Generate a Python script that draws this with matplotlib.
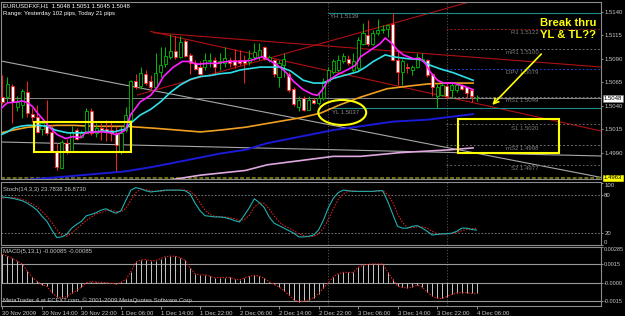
import matplotlib
matplotlib.use("Agg")
import matplotlib.pyplot as plt
import matplotlib.transforms as mtransforms
from matplotlib.patches import Ellipse, Rectangle

plt.rcParams['font.family'] = ['Liberation Sans', 'DejaVu Sans']

# EURUSD H1 bars, index 0 = 30 Nov 2009 06:00, one bar per hour
opens = [1.5049, 1.5049, 1.5061, 1.5039, 1.5041, 1.5054, 1.5031, 1.5028, 1.5015, 1.5018,
         1.5012, 1.4991, 1.4974, 1.5000, 1.4992, 1.5014, 1.5007, 1.5011, 1.5034, 1.5011,
         1.5016, 1.5015, 1.5014, 1.5011, 1.4991, 1.5014, 1.5025, 1.5066, 1.5061, 1.5074,
         1.5066, 1.5060, 1.5076, 1.5084, 1.5092, 1.5098, 1.5092, 1.5109, 1.5094, 1.5085,
         1.5081, 1.5081, 1.5087, 1.5089, 1.5085, 1.5085, 1.5089, 1.5089, 1.5089, 1.5089,
         1.5086, 1.5092, 1.5092, 1.5102, 1.5089, 1.5089, 1.5071, 1.5083, 1.5074, 1.5058,
         1.5039, 1.5048, 1.5035, 1.5046, 1.5043, 1.5048, 1.5066, 1.5076, 1.5078, 1.5087,
         1.5090, 1.5078, 1.5080, 1.5106, 1.5115, 1.5106, 1.5117, 1.5120, 1.5122, 1.5127,
         1.5089, 1.5076, 1.5081, 1.5078, 1.5081, 1.5089, 1.5089, 1.5074, 1.5050, 1.5051,
         1.5061, 1.5057, 1.5057, 1.5062, 1.5060, 1.5057, 1.5048]
highs = [1.5073, 1.5071, 1.5063, 1.5050, 1.5058, 1.5066, 1.5037, 1.5041, 1.5025, 1.5046,
         1.5019, 1.5000, 1.5003, 1.5005, 1.5018, 1.5016, 1.5014, 1.5038, 1.5037, 1.5021,
         1.5021, 1.5025, 1.5023, 1.5018, 1.5018, 1.5039, 1.5067, 1.5074, 1.5081, 1.5078,
         1.5073, 1.5096, 1.5102, 1.5102, 1.5116, 1.5114, 1.5114, 1.5111, 1.5096, 1.5089,
         1.5087, 1.5096, 1.5096, 1.5092, 1.5096, 1.5102, 1.5092, 1.5100, 1.5099, 1.5094,
         1.5099, 1.5107, 1.5107, 1.5103, 1.5094, 1.5090, 1.5089, 1.5096, 1.5076, 1.5060,
         1.5050, 1.5050, 1.5050, 1.5048, 1.5053, 1.5069, 1.5081, 1.5090, 1.5094, 1.5096,
         1.5094, 1.5096, 1.5113, 1.5128, 1.5131, 1.5121, 1.5132, 1.5126, 1.5127, 1.5139,
         1.5099, 1.5090, 1.5085, 1.5083, 1.5096, 1.5096, 1.5090, 1.5075, 1.5064, 1.5066,
         1.5064, 1.5065, 1.5063, 1.5063, 1.5060, 1.5058, 1.5051]
lows = [1.5042, 1.5044, 1.5022, 1.5034, 1.5027, 1.5028, 1.5023, 1.5011, 1.5009, 1.5009,
        1.4991, 1.4972, 1.4974, 1.4989, 1.4991, 1.5003, 1.5006, 1.5011, 1.5009, 1.5007,
        1.5003, 1.5002, 1.5002, 1.4970, 1.4989, 1.5012, 1.5023, 1.5058, 1.5058, 1.5062,
        1.5058, 1.5058, 1.5071, 1.5081, 1.5090, 1.5090, 1.5091, 1.5092, 1.5074, 1.5078,
        1.5073, 1.5078, 1.5081, 1.5073, 1.5078, 1.5081, 1.5081, 1.5080, 1.5083, 1.5064,
        1.5083, 1.5089, 1.5089, 1.5089, 1.5086, 1.5071, 1.5060, 1.5071, 1.5055, 1.5040,
        1.5034, 1.5034, 1.5035, 1.5042, 1.5041, 1.5046, 1.5064, 1.5074, 1.5076, 1.5085,
        1.5083, 1.5076, 1.5078, 1.5105, 1.5103, 1.5105, 1.5115, 1.5117, 1.5113, 1.5087,
        1.5062, 1.5062, 1.5075, 1.5073, 1.5080, 1.5087, 1.5071, 1.5050, 1.5037, 1.5050,
        1.5047, 1.5048, 1.5055, 1.5057, 1.5048, 1.5044, 1.5045]
closes = [1.5044, 1.5063, 1.5044, 1.5044, 1.5056, 1.5032, 1.5028, 1.5012, 1.5021, 1.5011,
          1.4992, 1.4975, 1.5001, 1.4992, 1.5012, 1.5005, 1.5011, 1.5034, 1.5011, 1.5016,
          1.5014, 1.5013, 1.5011, 1.4998, 1.5011, 1.5030, 1.5066, 1.5060, 1.5075, 1.5064,
          1.5060, 1.5075, 1.5083, 1.5093, 1.5098, 1.5092, 1.5108, 1.5093, 1.5085, 1.5079,
          1.5074, 1.5089, 1.5089, 1.5081, 1.5088, 1.5091, 1.5085, 1.5083, 1.5085, 1.5085,
          1.5091, 1.5097, 1.5099, 1.5090, 1.5092, 1.5074, 1.5085, 1.5090, 1.5057, 1.5042,
          1.5046, 1.5035, 1.5046, 1.5043, 1.5048, 1.5066, 1.5078, 1.5087, 1.5089, 1.5093,
          1.5085, 1.5088, 1.5110, 1.5117, 1.5106, 1.5117, 1.5121, 1.5122, 1.5126, 1.5089,
          1.5076, 1.5087, 1.5080, 1.5081, 1.5092, 1.5090, 1.5073, 1.5060, 1.5060, 1.5062,
          1.5050, 1.5062, 1.5062, 1.5058, 1.5053, 1.5050, 1.5048]

# moving averages (bar position, price)
ma_magenta_x = [-0.3, 1.0, 3.0, 4.0, 5.1, 6.1, 7.1, 8.3, 9.7, 11.1, 12.8, 14.2, 15.8, 16.8, 18.4,
                20.4, 21.9, 22.9, 23.9, 24.9, 25.9, 27.9, 30.0, 31.4, 32.6, 34.6, 36.4, 37.7,
                39.5, 41.5, 43.5, 45.5, 47.6, 50.2, 52.6, 53.8, 55.7, 57.3, 58.9, 60.9, 62.8,
                63.8, 64.8, 65.8, 67.8, 69.8, 71.5, 72.5, 74.5, 76.5, 77.5, 78.9, 80.0, 81.2,
                83.2, 84.6, 85.6, 86.6, 88.1, 89.3, 91.3, 93.3, 95.3]
ma_magenta_y = [1.5037, 1.5043, 1.5044, 1.5045, 1.5043, 1.5039, 1.5032, 1.5025, 1.5016, 1.5009,
                1.5005, 1.5007, 1.5006, 1.5011, 1.5012, 1.5012, 1.5011, 1.5009, 1.5011, 1.5014,
                1.5030, 1.5044, 1.5051, 1.5060, 1.5071, 1.5081, 1.5087, 1.5087, 1.5084, 1.5085,
                1.5085, 1.5087, 1.5087, 1.5088, 1.5092, 1.5089, 1.5083, 1.5076, 1.5066, 1.5057,
                1.5052, 1.5051, 1.5057, 1.5066, 1.5073, 1.5078, 1.5083, 1.5092, 1.5099, 1.5106,
                1.5112, 1.5106, 1.5099, 1.5094, 1.5090, 1.5090, 1.5085, 1.5076, 1.5067, 1.5064,
                1.5064, 1.5061, 1.5057]
ma_cyan_x = [-0.3, 1.0, 2.2, 3.6, 5.1, 7.1, 9.1, 10.7, 13.2, 15.8, 18.4, 20.4, 22.5, 24.9, 25.9,
             27.9, 30.0, 32.0, 34.0, 36.0, 38.1, 40.1, 42.1, 44.1, 46.2, 48.2, 52.2, 56.3, 58.3,
             60.9, 63.0, 65.0, 67.0, 69.8, 71.9, 73.5, 75.1, 77.5, 79.1, 82.0, 84.6, 86.6, 88.7,
             91.3, 93.3, 95.3]
ma_cyan_y = [1.5009, 1.5012, 1.5016, 1.5018, 1.5019, 1.5019, 1.5018, 1.5014, 1.5011, 1.5011,
             1.5012, 1.5013, 1.5012, 1.5015, 1.5021, 1.5030, 1.5036, 1.5044, 1.5054, 1.5062,
             1.5068, 1.5071, 1.5072, 1.5074, 1.5075, 1.5078, 1.5081, 1.5081, 1.5077, 1.5067,
             1.5064, 1.5064, 1.5069, 1.5073, 1.5076, 1.5081, 1.5087, 1.5094, 1.5092, 1.5090,
             1.5089, 1.5083, 1.5079, 1.5075, 1.5071, 1.5067]
ma_orange_x = [-0.3, 2.2, 5.1, 7.7, 11.1, 14.4, 18.4, 21.9, 24.9, 30.6, 35.4, 40.1, 44.1, 49.2,
               53.6, 60.3, 64.4, 68.4, 72.5, 77.9, 82.6, 86.0, 90.1, 95.3]
ma_orange_y = [1.5011, 1.5014, 1.5017, 1.5018, 1.5019, 1.5019, 1.5018, 1.5018, 1.5018, 1.5016,
               1.5014, 1.5012, 1.5014, 1.5017, 1.5021, 1.5027, 1.5032, 1.5041, 1.5049, 1.5058,
               1.5061, 1.5063, 1.5064, 1.5064]
ma_blue_x = [-0.3, 11.7, 24.9, 30.6, 37.4, 44.1, 49.2, 53.6, 67.0, 72.5, 79.1, 86.0, 95.3]
ma_blue_y = [1.4959, 1.4964, 1.4970, 1.4975, 1.4982, 1.4989, 1.4993, 1.5000, 1.5014, 1.5018,
             1.5023, 1.5025, 1.5031]
ma_pink_x = [31.0, 34.0, 40.1, 49.2, 53.6, 67.0, 72.5, 80.6, 90.7, 95.3]
ma_pink_y = [1.4959, 1.4961, 1.4966, 1.4971, 1.4977, 1.4986, 1.4986, 1.4990, 1.4993, 1.4995]

# stochastic (14,3,3): main and signal, one value per bar
stoch_main = [77, 76, 75, 73, 71, 67, 62, 56, 46, 38, 24, 12, 13, 17, 27, 33, 38, 47, 49, 52,
              56, 58, 54, 51, 55, 72, 88, 92, 90, 87, 85, 86, 87, 88, 88, 88, 88, 87, 82, 67,
              55, 47, 46, 45, 45, 44, 42, 39, 37, 48, 60, 74, 68, 60, 45, 35, 31, 27, 23, 19,
              13, 13, 14, 16, 24, 40, 60, 75, 84, 88, 87, 86, 86, 86, 86, 86, 87, 87, 70, 50,
              30, 27, 27, 30, 31, 27, 22, 16, 17, 18, 18, 19, 22, 27, 27, 25, 23.8]
stoch_signal = [75, 76, 76, 75, 73, 70, 66, 61, 54, 46, 36, 25, 16, 14, 19, 26, 33, 39, 45, 50,
                52, 55, 56, 54, 53, 59, 72, 84, 90, 89, 87, 86, 86, 87, 88, 88, 88, 88, 86, 79,
                68, 56, 49, 46, 45, 45, 44, 42, 39, 41, 48, 61, 67, 67, 58, 47, 37, 31, 27, 23,
                18, 15, 13, 14, 18, 27, 41, 58, 73, 82, 86, 87, 86, 86, 86, 86, 86, 87, 81, 69,
                50, 36, 28, 28, 29, 29, 27, 22, 18, 17, 18, 18, 20, 23, 25, 26, 26.9]

# MACD (5,13,1), one value per bar (signal period 1 = same line)
macd = [0.00227, 0.00211, 0.00195, 0.00174, 0.00150, 0.00094, 0.00045, 0.00011, -0.00016, -0.00029,
        -0.00080, -0.00112, -0.00123, -0.00112, -0.00083, -0.00064, -0.00035, 0.00000, 0.00008, 0.00005,
        0.00003, 0.00000, -0.00005, -0.00011, 0.00003, 0.00027, 0.00088, 0.00166, 0.00182, 0.00185,
        0.00176, 0.00176, 0.00193, 0.00209, 0.00214, 0.00211, 0.00201, 0.00179, 0.00118, 0.00072,
        0.00062, 0.00064, 0.00051, 0.00040, 0.00040, 0.00040, 0.00043, 0.00029, 0.00021, 0.00040,
        0.00051, 0.00059, 0.00053, 0.00035, 0.00008, -0.00013, -0.00035, -0.00064, -0.00099, -0.00136,
        -0.00152, -0.00147, -0.00139, -0.00120, -0.00088, -0.00043, 0.00000, 0.00048, 0.00072, 0.00083,
        0.00083, 0.00083, 0.00123, 0.00139, 0.00147, 0.00150, 0.00150, 0.00150, 0.00088, 0.00027,
        -0.00027, -0.00037, -0.00045, -0.00032, -0.00021, -0.00035, -0.00075, -0.00107, -0.00126, -0.00126,
        -0.00112, -0.00094, -0.00083, -0.00080, -0.00080, -0.00086, -0.00085]

# trend lines drawn on the chart: (bar, price) -> (bar, price), colour
trend_lines = [((-0.3, 1.50875), (121.2, 1.49636), '#a8a8a8'),
               ((-0.3, 1.50013), (121.2, 1.49864), '#a8a8a8'),
               ((27.3, 1.50513), (95.0, 1.51510), '#b01010'),
               ((30.6, 1.51176), (121.2, 1.50811), '#b01010'),
               ((30.0, 1.51190), (121.2, 1.50130), '#b01010')]

# daily pivot levels
pivot_names = ['R1', 'mR1', 'DPV', 'mS1', 'S1', 'mS2', 'S2']
pivot_levels = [1.5122, 1.5100, 1.5079, 1.5049, 1.5020, 1.4998, 1.4977]
pivot_colors = ['#a01818', '#707070', '#2040d0', '#707070', '#606060', '#707070', '#606060']
yest_high, yest_low = 1.5139, 1.5037
bid, low_line = 1.5048, 1.4963

price_ticks = [1.5140, 1.5115, 1.5090, 1.5065, 1.5040, 1.5015, 1.4990]
time_ticks = [0, 8, 16, 24, 32, 40, 48, 56, 64, 72, 80, 88, 96]
time_labels = ['30 Nov 2009', '30 Nov 14:00', '30 Nov 22:00', '1 Dec 06:00', '1 Dec 14:00',
               '1 Dec 22:00', '2 Dec 06:00', '2 Dec 14:00', '2 Dec 22:00', '3 Dec 06:00',
               '3 Dec 14:00', '3 Dec 22:00', '4 Dec 06:00']
day_starts = [66, 90]

W, H = 625, 316
fig = plt.figure(figsize=(W / 100, H / 100), dpi=100, facecolor='black')
GREY = '#c8c8c8'
FS = 4.3


def panel(top, bottom):
    a = fig.add_axes([1 / W, 1 - bottom / H, 600 / W, (bottom - top) / H])
    a.set_facecolor('black')
    for s in a.spines.values():
        s.set_color('#8c8c8c')
        s.set_linewidth(0.8)
    a.set_xlim(-0.3, 121.2)
    a.tick_params(axis='y', right=True, left=False, labelright=True, labelleft=False,
                  colors=GREY, labelsize=FS, length=1.5, width=0.5, pad=0.8)
    a.tick_params(axis='x', bottom=False, labelbottom=False)
    for d in day_starts:
        a.axvline(d, color='#5a5a5a', lw=0.6, ls=(0, (1.5, 2)), zorder=1)
    return a


ax = panel(2, 179)
ax_st = panel(182, 245)
ax_md = panel(247, 306)

# ---- main price panel
ax.set_ylim(1.49619, 1.51503)
ax.set_yticks(price_ticks, [f'{p:.4f}' for p in price_ticks])

for (x0, y0), (x1, y1), c in trend_lines:
    ax.plot([x0, x1], [y0, y1], color=c, lw=0.8, zorder=2)

ax.axhline(bid, color='#8a8a8a', lw=0.7, zorder=2)
ax.axhline(low_line, color='#6e6e10', lw=1.4, ls=(0, (2, 1)), zorder=2)
ax.hlines([yest_high, yest_low], 66, 121.2, color='#1f8c8c', lw=0.8, zorder=2)
ax.hlines(pivot_levels, 89.8, 121.2, colors=pivot_colors, lw=0.7, linestyles=(0, (2, 2)), zorder=2)
for name, lvl in zip(pivot_names, pivot_levels):
    ax.annotate(f'{name} {lvl:.4f}', (108.6, lvl), xytext=(0, -0.8), textcoords='offset points',
                ha='right', va='top', fontsize=FS, color='#7c7c7c')
ax.annotate(f'YH {yest_high:.4f}', (66.4, yest_high), xytext=(0, -1.2), textcoords='offset points',
            ha='left', va='top', fontsize=FS, color='#8c8c8c')
ax.annotate(f'YL {yest_low:.4f}', (66.8, yest_low), xytext=(0, -1.2), textcoords='offset points',
            ha='left', va='top', fontsize=FS, color='#8c8c8c')

ax.plot(ma_pink_x, ma_pink_y, color='#e0a8e0', lw=1.2, zorder=3)
ax.plot(ma_blue_x, ma_blue_y, color='#1a1ad8', lw=1.4, zorder=3)
ax.plot(ma_orange_x, ma_orange_y, color='#f0a020', lw=1.2, zorder=3)

bars = list(range(len(opens)))
up = [c >= o for o, c in zip(opens, closes)]
edge = ['#00c000' if u else '#ff2020' for u in up]
face = ['black' if u else 'white' for u in up]
body_lo = [min(o, c) for o, c in zip(opens, closes)]
body_h = [max(abs(c - o), 0.00004) for o, c in zip(opens, closes)]
ax.vlines(bars, lows, highs, colors=edge, lw=0.7, zorder=4)
ax.bar(bars, body_h, bottom=body_lo, width=0.62, color=face, edgecolor=edge, linewidth=0.6, zorder=5)

ax.plot(ma_cyan_x, ma_cyan_y, color='#30e0e8', lw=1.2, zorder=6)
ax.plot(ma_magenta_x, ma_magenta_y, color='#ff20ff', lw=1.2, zorder=6)

# right-hand boxed prices
yt = mtransforms.blended_transform_factory(ax.transAxes, ax.transData)
ax.text(1.004, bid, f'{bid:.4f}', transform=yt, fontsize=FS, color='black', va='center', ha='left',
        bbox=dict(boxstyle='square,pad=0.15', fc='white', ec='#808080', lw=0.4), clip_on=False)
ax.text(1.004, low_line, f'{low_line:.4f}', transform=yt, fontsize=FS, color='black', va='center',
        ha='left', bbox=dict(boxstyle='square,pad=0.15', fc='#ffff00', ec='#ffff00', lw=0.4), clip_on=False)

# hand-drawn yellow annotations
YEL = '#ffff00'
ax.add_patch(Rectangle((6.3, 1.49907), 19.8, 0.00319, fill=False, ec=YEL, lw=1.5, zorder=7))
ax.add_patch(Rectangle((92.3, 1.49896), 20.3, 0.00362, fill=False, ec=YEL, lw=1.5, zorder=7))
ax.add_patch(Ellipse((68.8, 1.50327), 9.7, 0.00266, fill=False, ec=YEL, lw=1.5, zorder=7))
ax.annotate('', xy=(98.8, 1.50386), xytext=(109.5, 1.50971),
            arrowprops=dict(arrowstyle='->', color=YEL, lw=1.2, mutation_scale=9), zorder=7)
ax.text(114.5, 1.51216, 'Break thru\nYL & TL??', color=YEL, fontsize=8.1, fontweight='bold',
        ha='center', va='center', linespacing=1.25, zorder=8)

# ---- stochastic panel
ax_st.set_ylim(0, 101)
ax_st.set_yticks([100, 80, 20, 0], ['100', '80', '20', '0'])
ax_st.axhline(80, color='#8a8a8a', lw=0.6, ls=(0, (2, 2)))
ax_st.axhline(20, color='#8a8a8a', lw=0.6, ls=(0, (2, 2)))
ax_st.plot(bars, stoch_signal, color='#ff2020', lw=0.7, ls=(0, (1.5, 1.5)))
ax_st.plot(bars, stoch_main, color='#20b0b0', lw=0.8)
lbl = ax_st.get_yticklabels()
lbl[0].set_va('top')
lbl[-1].set_va('bottom')

# ---- MACD panel
ax_md.set_ylim(-0.00187, 0.00286)
ax_md.set_yticks([0.00285, 0.0015, 0.0, -0.0015], ['0.00285', '0.0015', '-0.0000', '-0.0015'])
ax_md.tick_params(axis='y', labelsize=4.0)
for lv in [0.0015, 0.0, -0.0015]:
    ax_md.axhline(lv, color='#9a9a9a', lw=0.8)
ax_md.vlines(bars, 0, macd, colors='#c8c8c8', lw=0.7)
ax_md.plot(bars, macd, color='#ff2020', lw=0.7, ls=(0, (1.5, 1.5)))
ax_md.get_yticklabels()[0].set_va('top')

ax_md.set_xticks(time_ticks, time_labels)
ax_md.tick_params(axis='x', bottom=True, labelbottom=True, colors=GREY, labelsize=FS,
                  length=2, width=0.5, pad=1.5)
for t in ax_md.get_xticklabels():
    t.set_ha('left')


# ---- texts
def ftext(x, y, s, col=GREY):
    fig.text(x / W, 1 - y / H, s, fontsize=FS, color=col, va='center', ha='left')


ftext(3, 6, 'EURUSDFXF,H1  1.5048 1.5051 1.5045 1.5048', 'white')
ftext(3, 13.5, 'Range: Yesterday 102 pips, Today 21 pips', 'white')
ftext(3, 189, 'Stoch(14,3,3) 23.7838 26.8730')
ftext(3, 252, 'MACD(5,13,1) -0.00085 -0.00085')
ftext(3, 300.5, 'MetaTrader 4 at ECFXT.com, \u00a9 2001-2009 MetaQuotes Software Corp.')

fig.savefig('out.png', dpi=100, facecolor='black')
